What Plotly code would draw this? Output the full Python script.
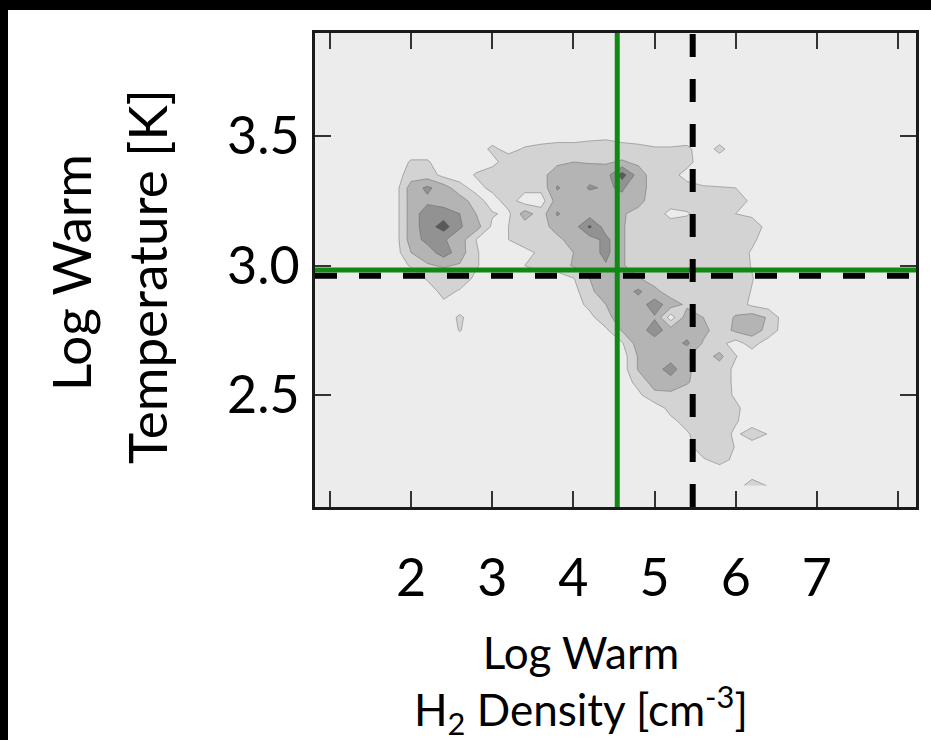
import plotly.graph_objects as go

# ---------------- data ----------------
# grid centres of the binned warm-gas density / temperature map
density_x = [1.8, 2.0, 2.2, 2.4, 2.6, 2.8, 3.0, 3.2, 3.4, 3.6, 3.8, 4.0, 4.2, 4.4,
             4.6, 4.8, 5.0, 5.2, 5.4, 5.6, 5.8, 6.0, 6.2, 6.4, 6.6, 6.8, 7.0]
density_y = [3.60, 3.55, 3.50, 3.45, 3.40, 3.35, 3.30, 3.25, 3.20, 3.15,
             3.10, 3.05, 3.00, 2.95, 2.90, 2.85, 2.80, 2.75, 2.70, 2.65,
             2.60, 2.55, 2.50, 2.45, 2.40, 2.35, 2.30, 2.25, 2.20, 2.15]
# relative level of the map (0 = empty, 1..4 = contour levels), rows follow density_y
density_z = [
    [0,0,0,0,0,0,0,0,0,0,0,0,0,0,0,0,0,0,0,0,0,0,0,0,0,0,0],
    [0,0,0,0,0,0,0,0,0,0,0,0,0,0,0,0,0,0,0,0,0,0,0,0,0,0,0],
    [0,0,0,0,0,0,0,0,0,0,0,0,0.2,0.3,0,0,0,0,0,0,0,0,0,0,0,0,0],
    [0,0,0,0,0,0,0.7,0.2,0.6,0.8,1,1,1,1,1,0.8,0.6,0.6,0.7,0,0.75,0,0,0,0,0,0],
    [0,0.6,0.6,0,0,0,0.2,1,1,1,1.3,1.5,1.4,1.4,1.6,1.3,1,1,0.8,0,0,0,0,0,0,0,0],
    [0,1,1,0.2,0,0.6,1,1,1,1.2,2,2,2.2,2,4,2,1,0.8,0.2,0,0,0,0,0,0,0,0],
    [0,2,2.7,2,0.9,0.1,0.8,1,0.8,0.8,2.6,2,2.6,2.4,2.6,2,1,1,0.8,0.6,0.55,0.5,0.45,0,0,0,0],
    [0,2,2.3,2,2,1,0,1,0,0,2,2,2,2,2.3,1.8,1,1,1,1,1,1,0.3,0,0,0,0],
    [0,2,3,3,2.5,1.5,0.6,0.3,2,1,2.6,2,2,2,1.6,1.2,1,0.2,0.4,1,1,0.5,0.3,0,0,0,0],
    [0,2,3,4,2.6,2,0.3,0.5,1,1,2,2,3.7,2,1.6,1,1,1,1,1,1,1,1,0.2,0,0,0],
    [0,2,2.8,2.6,2,0.5,0,0.5,1,1,1.2,2,2,2.8,1.6,1,1,1,1,1,1,1,0.7,0,0,0,0],
    [0,1.5,2,3,2,0.6,0,0,0.2,0.7,1,1.5,2,2.8,1.6,1,1,1,1,1,1,1,0.4,0,0,0,0],
    [0,0.6,1.4,1.6,1.4,0.6,0,0,0.5,1,1,1.6,2,2.4,1.6,1,1,1,1,1,1,1,0.45,0,0,0,0],
    [0,0,0.6,1,1,0.3,0,0,0,0,0,0.45,1.5,2,2,1.6,1,1,1,1,1,1,0.55,0,0,0,0],
    [0,0,0,0.8,0.4,0,0,0,0,0,0,0.1,1.3,2,2,2.7,1.8,1,1,1,1,1,0.45,0,0,0,0],
    [0,0,0,0.3,0,0,0,0,0,0,0,0,0.8,1.5,2,2,3,2,1.3,1,1,1,0.3,0,0,0,0],
    [0,0,0,0,0.65,0,0,0,0,0,0,0,0.2,1.2,2,2,2.4,0,2,1.5,1,1.6,2,1.4,0,0,0],
    [0,0,0,0,0.55,0,0,0,0,0,0,0,0,0.3,1.6,2,3,2,2,1.8,1,1.7,2,1.2,0,0,0],
    [0,0,0,0,0,0,0,0,0,0,0,0,0,0,0.4,2,2,2,2.7,1.4,0.8,0.1,0.9,0,0,0,0],
    [0,0,0,0,0,0,0,0,0,0,0,0,0,0,0,1.6,2,2,1.6,1,1.8,0.55,0,0,0,0,0],
    [0,0,0,0,0,0,0,0,0,0,0,0,0,0,0,1.6,2,3,1.7,1,1,0.3,0,0,0,0,0],
    [0,0,0,0,0,0,0,0,0,0,0,0,0,0,0,0.8,2,2,1.6,1,1,0.3,0,0,0,0,0],
    [0,0,0,0,0,0,0,0,0,0,0,0,0,0,0,0.3,1.2,1.3,1,1,1,0.35,0,0,0,0,0],
    [0,0,0,0,0,0,0,0,0,0,0,0,0,0,0,0,0,0.8,1,1,1,0.7,0,0,0,0,0],
    [0,0,0,0,0,0,0,0,0,0,0,0,0,0,0,0,0,0.3,0.8,1,1,0.6,0,0,0,0,0],
    [0,0,0,0,0,0,0,0,0,0,0,0,0,0,0,0,0,0,0.4,1,1,0.3,1,0.45,0,0,0],
    [0,0,0,0,0,0,0,0,0,0,0,0,0,0,0,0,0,0,0.2,1,1,0.45,0,0,0,0,0],
    [0,0,0,0,0,0,0,0,0,0,0,0,0,0,0,0,0,0,0,0.4,0.8,0.3,0,0,0,0,0],
    [0,0,0,0,0,0,0,0,0,0,0,0,0,0,0,0,0,0,0,0,0,0,0,0,0,0,0],
    [0,0,0,0,0,0,0,0,0,0,0,0,0,0,0,0,0,0,0,0,0,0,1,0.45,0,0,0],
]

x_tick_vals = [2, 3, 4, 5, 6, 7]
x_tick_text = ["2", "3", "4", "5", "6", "7"]
x_minor_tick_vals = [1, 8]
y_tick_vals = [2.5, 3.0, 3.5]
y_tick_text = ["2.5", "3.0", "3.5"]
x_range = [0.815, 8.222]
y_range = [2.068, 3.898]

# reference lines
green_x = [4.54]
green_y = [2.983]
dashed_x = [5.47]
dashed_y = [2.961]

x_title = "Log Warm<br>H<sub>2</sub> Density [cm<sup>-3</sup>]"
y_title_lines = ["Log Warm", "Temperature [K]"]

level_colors = ["#ececec", "#d3d3d3", "#b4b4b4", "#929292", "#5a5a5a"]

# ---------------- layout constants ----------------
W, H = 931, 740
ML, MR, MT, MB = 315, 15, 33, 233
PW, PH = W - ML - MR, H - MT - MB
FONT = "Lato"


def px_to_paper_x(px):
    return (px - ML) / PW


def px_to_paper_y(py):
    return (H - MB - py) / PH


fig = go.Figure()

fig.add_trace(go.Contour(
    x=density_x,
    y=density_y[::-1],
    z=density_z[::-1],
    zmin=0, zmax=4,
    colorscale=[[i / 4, c] for i, c in enumerate(level_colors)],
    contours=dict(start=0.5, end=3.5, size=1, coloring="fill", showlines=True),
    line=dict(width=0.8, color="rgba(80,80,80,0.5)", smoothing=0),
    showscale=False,
    hoverinfo="skip",
))

# horizontal dashed, horizontal green, vertical green, vertical dashed
for yv in dashed_y:
    fig.add_trace(go.Scatter(x=x_range, y=[yv, yv], mode="lines",
                             line=dict(color="black", width=6, dash="22px,22px"),
                             hoverinfo="skip", showlegend=False))
for yv in green_y:
    fig.add_trace(go.Scatter(x=x_range, y=[yv, yv], mode="lines",
                             line=dict(color="#118811", width=5),
                             hoverinfo="skip", showlegend=False))
for xv in green_x:
    fig.add_trace(go.Scatter(x=[xv, xv], y=y_range, mode="lines",
                             line=dict(color="#118811", width=5),
                             hoverinfo="skip", showlegend=False))
for xv in dashed_x:
    fig.add_trace(go.Scatter(x=[xv, xv], y=y_range, mode="lines",
                             line=dict(color="black", width=6, dash="23px,22px"),
                             hoverinfo="skip", showlegend=False))

axis_common = dict(
    showgrid=False, zeroline=False, showline=True, linewidth=3,
    linecolor="#1a1a1a", mirror="ticks", ticks="inside", ticklen=16,
    tickwidth=2, tickcolor="#333333",
    tickfont=dict(family=FONT, size=52, color="black"),
)

fig.update_xaxes(range=x_range, tickmode="array", tickvals=x_tick_vals,
                 ticktext=x_tick_text, ticklabelstandoff=24,
                 minor=dict(tickmode="array", tickvals=x_minor_tick_vals,
                            ticks="inside", ticklen=16, tickwidth=2,
                            tickcolor="#333333", showgrid=False),
                 **axis_common)
fig.update_yaxes(range=y_range, tickmode="array", tickvals=y_tick_vals,
                 ticktext=y_tick_text, ticklabelstandoff=2, **axis_common)

annotations = [
    dict(text=x_title, xref="paper", yref="paper",
         x=px_to_paper_x(581), y=px_to_paper_y(684),
         xanchor="center", yanchor="middle", showarrow=False,
         font=dict(family=FONT, size=44, color="black")),
    dict(text=y_title_lines[0], xref="paper", yref="paper",
         x=px_to_paper_x(70), y=px_to_paper_y(272),
         xanchor="center", yanchor="middle", showarrow=False, textangle=-90,
         font=dict(family=FONT, size=53, color="black")),
    dict(text=y_title_lines[1], xref="paper", yref="paper",
         x=px_to_paper_x(146), y=px_to_paper_y(277),
         xanchor="center", yanchor="middle", showarrow=False, textangle=-90,
         font=dict(family=FONT, size=53, color="black")),
]

shapes = [
    # black strip along the top edge
    dict(type="rect", xref="paper", yref="paper", layer="above",
         x0=px_to_paper_x(0), x1=px_to_paper_x(W),
         y0=px_to_paper_y(10), y1=px_to_paper_y(0),
         fillcolor="black", line=dict(width=0)),
    # black strip along the left edge
    dict(type="rect", xref="paper", yref="paper", layer="above",
         x0=px_to_paper_x(0), x1=px_to_paper_x(8),
         y0=px_to_paper_y(H), y1=px_to_paper_y(0),
         fillcolor="black", line=dict(width=0)),
]

fig.update_layout(
    width=W, height=H, autosize=False,
    margin=dict(l=ML, r=MR, t=MT, b=MB, pad=0),
    paper_bgcolor="white",
    plot_bgcolor=level_colors[0],
    showlegend=False,
    annotations=annotations,
    shapes=shapes,
    font=dict(family=FONT, color="black"),
)

fig.write_html(
    "out.html",
    config={"displayModeBar": False, "staticPlot": True},
    post_script="document.body.style.margin='0px';"
                "document.body.style.overflow='hidden';",
)
